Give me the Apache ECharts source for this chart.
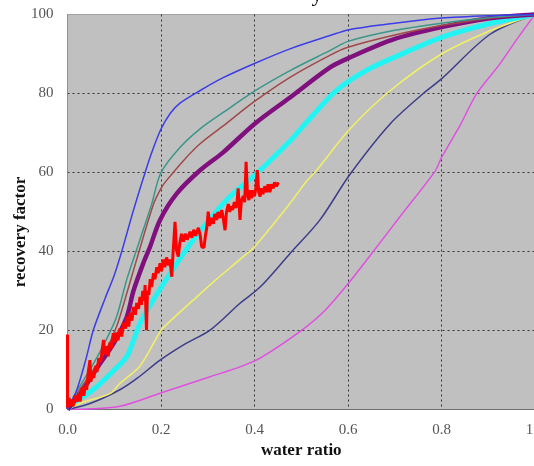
<!DOCTYPE html>
<html>
<head>
<meta charset="utf-8">
<script src="https://cdn.jsdelivr.net/npm/echarts@6/dist/echarts.min.js"></script>
<style>
  html,body{margin:0;padding:0;background:#fff;}
  #main{width:534px;height:466px;}
</style>
</head>
<body>
<div id="main"></div>
<script>
// tick values
var xTicks = [0, 0.2, 0.4, 0.6, 0.8, 1.0];
var yTicks = [0, 20, 40, 60, 80, 100];

// curves: [water ratio, recovery factor]
var blueLine = [[0,0],[0.02,5],[0.04,13],[0.055,20],[0.08,28],[0.1,34],[0.116,40],[0.14,50],[0.166,60],[0.18,65],[0.2,71],[0.22,75],[0.24,77.5],[0.283,80.7],[0.333,84],[0.4,87.6],[0.476,91.3],[0.56,94.6],[0.6,96.1],[0.7,97.8],[0.8,99.1],[0.9,99.7],[1.0,100]];
var tealLine = [[0,0],[0.012,3],[0.055,11.5],[0.08,17],[0.105,23.5],[0.127,33],[0.155,43],[0.18,52],[0.2,60],[0.241,66.4],[0.283,71],[0.333,75.2],[0.4,80.6],[0.476,85.8],[0.56,90.8],[0.6,93.2],[0.7,96],[0.8,97.8],[0.9,99.2],[1.0,100]];
var brownLine = [[0,0],[0.012,2.5],[0.055,10],[0.08,14.5],[0.105,21],[0.127,29.5],[0.148,38],[0.184,52],[0.2,56],[0.212,58],[0.248,63],[0.283,67.2],[0.333,71.8],[0.4,78],[0.476,84.1],[0.56,89.6],[0.6,91.7],[0.7,94.8],[0.8,97.2],[0.9,99],[1.0,100]];
var purpleLine = [[0,0],[0.027,4],[0.07,11.7],[0.1,17],[0.127,23.5],[0.141,30],[0.162,37],[0.176,41],[0.198,48],[0.234,54.7],[0.283,60.5],[0.333,65.1],[0.4,72.3],[0.476,79],[0.56,86.5],[0.6,88.9],[0.7,93.8],[0.8,96.8],[0.9,99],[1.0,100]];
var cyanLine = [[0,0],[0.012,1.6],[0.055,5],[0.1,10],[0.127,13.4],[0.155,21.8],[0.19,29],[0.215,33.6],[0.269,42.9],[0.34,53],[0.405,59.8],[0.476,68],[0.497,70.8],[0.568,80],[0.604,83.3],[0.65,86.5],[0.69,88.7],[0.8,94.2],[0.9,97.6],[1.0,100]];
var yellowLine = [[0,0],[0.027,1.6],[0.091,4],[0.112,6.6],[0.155,11],[0.2,20],[0.219,22.3],[0.269,27.7],[0.319,33],[0.369,38],[0.4,41.2],[0.476,52.2],[0.512,57.9],[0.533,60.6],[0.604,71],[0.69,80.7],[0.8,90],[0.904,95.9],[1.0,100]];
var navyLine = [[0,0],[0.048,1.5],[0.112,5],[0.15,8],[0.198,12.5],[0.25,16.5],[0.305,20.1],[0.369,26.9],[0.412,31],[0.476,39.5],[0.54,48],[0.604,59.5],[0.69,72.3],[0.761,80],[0.8,83.7],[0.904,95],[1.0,100]];
var magentaLine = [[0,0],[0.05,0.2],[0.112,0.8],[0.198,4.1],[0.305,8.3],[0.369,10.8],[0.412,13],[0.497,19.7],[0.55,25],[0.604,32.4],[0.654,40],[0.711,48.8],[0.786,60.3],[0.8,63.8],[0.84,72],[0.875,79.9],[0.925,87.5],[0.96,93.5],[1.0,100]];
var redLine = [[0,19],[0,0.5],[0.003,3],[0.006,1],[0.009,2.5],[0.012,0.8],[0.016,3.5],[0.02,2],[0.024,4],[0.027,2],[0.031,5.5],[0.035,3.5],[0.038,6],[0.041,5],[0.044,9],[0.048,12.5],[0.05,7],[0.053,9.5],[0.056,8],[0.06,11],[0.063,9.5],[0.067,13],[0.071,12],[0.074,15],[0.077,17.6],[0.08,14],[0.084,16],[0.087,13.5],[0.091,17],[0.094,15.5],[0.098,19.3],[0.101,17],[0.105,19.5],[0.108,17.5],[0.112,20.5],[0.116,18.5],[0.12,22],[0.124,20.5],[0.127,23.5],[0.131,21],[0.134,24.5],[0.138,22.5],[0.141,26],[0.145,24],[0.148,27],[0.152,25.5],[0.155,28.5],[0.158,26.5],[0.161,30],[0.164,27.5],[0.166,31.5],[0.169,20.1],[0.171,30],[0.174,29],[0.177,33],[0.18,31],[0.184,34.5],[0.187,33],[0.191,36],[0.194,34.5],[0.198,37],[0.201,35],[0.205,38],[0.208,36],[0.212,38.5],[0.216,36.5],[0.219,38],[0.223,33.6],[0.226,40],[0.23,47.5],[0.233,40.5],[0.237,38.7],[0.24,42],[0.244,44.5],[0.248,42.5],[0.252,44.5],[0.256,43],[0.262,45],[0.266,43.5],[0.27,45.5],[0.274,44],[0.28,46],[0.284,44],[0.287,41.2],[0.292,41],[0.295,44],[0.298,46],[0.301,50.1],[0.304,46.5],[0.308,48.5],[0.312,47],[0.315,49.5],[0.319,48],[0.322,50],[0.326,48.5],[0.33,50.5],[0.333,48.5],[0.337,45.4],[0.34,50],[0.344,52],[0.347,50],[0.35,51.5],[0.353,50.5],[0.357,52.5],[0.36,51],[0.363,53],[0.365,56],[0.367,52],[0.369,48],[0.372,53],[0.376,54],[0.379,52.5],[0.382,62.7],[0.385,54.5],[0.388,53],[0.391,55.5],[0.394,53.5],[0.397,55.5],[0.4,54],[0.403,56],[0.406,60.6],[0.409,55],[0.412,53.9],[0.415,56],[0.418,54.5],[0.422,56.5],[0.426,55],[0.429,57],[0.433,55],[0.436,57],[0.44,56],[0.443,57.5],[0.447,56.5],[0.451,57.5]];

var serif = '"Liberation Serif", "DejaVu Serif", serif';

function curve(data, color, width, smooth) {
    return {
        type: 'line',
        data: data,
        showSymbol: false,
        smooth: smooth,
        lineStyle: {color: color, width: width},
        itemStyle: {color: color}
    };
}

var chart = echarts.init(document.getElementById('main'));
chart.setOption({
    animation: false,
    grid: {
        left: 67.5, top: 14.5, width: 467.5, height: 395,
        outerBoundsMode: 'none',
        show: true, backgroundColor: '#c0c0c0', borderColor: '#a0a0a0', borderWidth: 1
    },
    xAxis: {
        type: 'value',
        min: xTicks[0], max: xTicks[xTicks.length - 1], interval: 0.2,
        name: 'water ratio', nameLocation: 'middle', nameGap: 33,
        nameTextStyle: {fontFamily: serif, fontWeight: 'bold', fontSize: 17, color: '#111'},
        axisLine: {lineStyle: {color: '#707070', width: 1}},
        axisTick: {show: false},
        axisLabel: {
            margin: 13, fontFamily: serif, fontSize: 15, color: '#555',
            formatter: function (v) { return v.toFixed(1); }
        },
        splitLine: {show: true, showMinLine: false, showMaxLine: false,
            lineStyle: {color: '#333', width: 1, type: [2, 3]}}
    },
    yAxis: {
        type: 'value',
        min: yTicks[0], max: yTicks[yTicks.length - 1], interval: 20,
        axisLine: {show: true, lineStyle: {color: '#909090', width: 1}},
        axisTick: {show: false},
        axisLabel: {margin: 14, fontFamily: serif, fontSize: 15, color: '#555'},
        splitLine: {show: true, showMinLine: false, showMaxLine: false,
            lineStyle: {color: '#333', width: 1, type: [2, 3]}}
    },
    graphic: [
        {
            type: 'text', x: 21, y: 232, rotation: Math.PI / 2,
            style: {text: 'recovery factor', font: 'bold 17px ' + serif, fill: '#111',
                align: 'center', verticalAlign: 'middle'}
        },
        {
            type: 'text', x: 317, y: 6,
            style: {text: 'y', font: '22px ' + serif, fill: '#000',
                align: 'center', verticalAlign: 'bottom'}
        }
    ],
    series: [
        curve(magentaLine, '#e050e0', 1.5, 0.3),
        curve(navyLine, '#3c3c8a', 1.5, 0.3),
        curve(yellowLine, '#f2f064', 1.5, 0.3),
        curve(cyanLine, '#22f4f4', 5, 0.3),
        curve(purpleLine, '#80107e', 4.5, 0.3),
        curve(brownLine, '#a04848', 1.5, 0.3),
        curve(tealLine, '#3a9688', 1.5, 0.3),
        curve(blueLine, '#3c3ce8', 1.5, 0.3),
        curve(redLine, '#ff0000', 3, false)
    ]
});
</script>
</body>
</html>
